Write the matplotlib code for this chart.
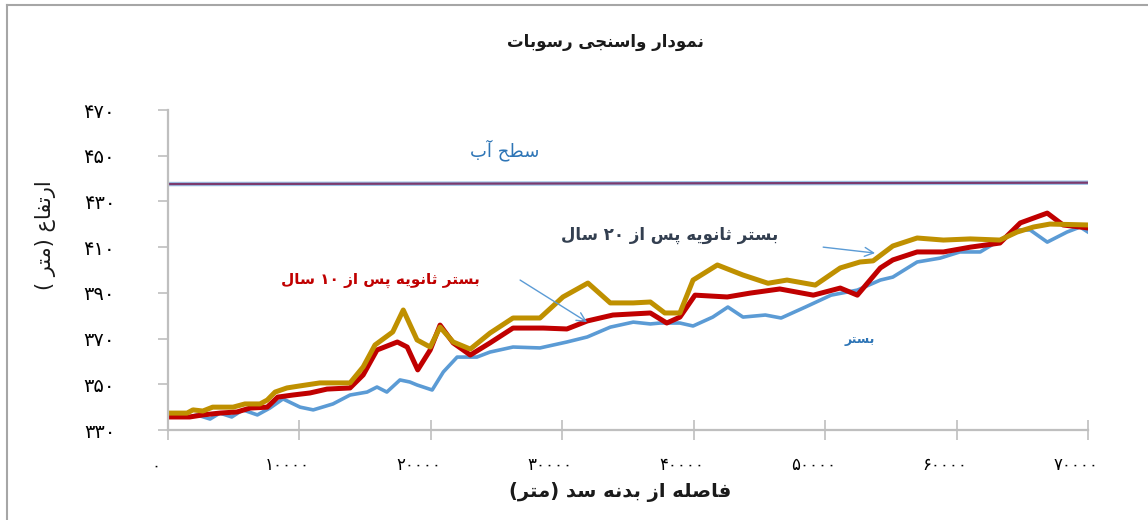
import re
import matplotlib
matplotlib.use("Agg")
import matplotlib.pyplot as plt
from matplotlib.lines import Line2D
from matplotlib.transforms import ScaledTranslation

plt.rcParams['font.family'] = ['DejaVu Sans']

# داده ها (فاصله از بدنه سد - متر ، ارتفاع - متر)
water_x = [0, 70000]
water_y = [437.6, 438.2]

bed_x = [0, 1650, 2200, 3200, 3950, 4850, 5700, 6800, 7750, 8750, 10050, 11050, 12550, 13850,
         15150, 15900, 16650, 17650, 18400, 18950, 20100, 20950, 22000, 23500, 24500, 26250,
         28300, 30350, 31900, 33650, 35400, 36700, 37450, 38950, 39950, 41450, 42600, 43750,
         45450, 46650, 48500, 50450, 52450, 54200, 55150, 57000, 58750, 60250, 61800, 63300,
         64600, 65600, 66900, 68400, 69400, 70000]
bed_y = [335.7, 335.7, 336.6, 334.8, 337.4, 335.7, 338.8, 336.6, 339.6, 343.6, 340.0, 338.8,
         341.4, 345.3, 346.6, 348.8, 346.6, 351.9, 351.0, 349.7, 347.5, 355.4, 361.9, 361.9,
         364.1, 366.3, 365.9, 368.5, 370.7, 375.0, 377.2, 376.4, 376.8, 376.8, 375.5, 379.4,
         383.8, 379.4, 380.3, 379.0, 383.8, 389.0, 391.2, 395.6, 396.9, 403.5, 405.2, 407.9,
         407.9, 413.1, 417.5, 417.5, 412.2, 416.6, 418.8, 416.6]

bed10_x = [0, 1650, 2650, 3950, 5250, 6250, 7550, 8350, 9500, 10800, 12100, 13850, 14850,
           15900, 17450, 18200, 19000, 19950, 20700, 21700, 23000, 24500, 26250, 28550, 30350,
           31900, 33850, 36700, 37950, 38950, 40100, 42550, 44300, 46550, 49100, 51150, 52450,
           54200, 55150, 57000, 59000, 61050, 63300, 64850, 66900, 68100, 70000]
bed10_y = [335.7, 335.7, 336.6, 337.4, 337.9, 339.6, 340.0, 344.4, 345.3, 346.2, 347.9, 348.4,
           354.1, 365.0, 368.5, 366.3, 356.3, 365.0, 375.9, 368.1, 362.8, 368.1, 374.6, 374.6,
           374.2, 377.7, 380.3, 381.2, 376.8, 379.4, 389.0, 388.2, 389.9, 391.7, 389.0, 392.1,
           389.0, 400.9, 404.4, 407.9, 407.9, 410.0, 411.8, 420.6, 424.9, 419.7, 418.4]

bed20_x = [0, 1450, 1900, 2650, 3400, 4200, 4950, 5850, 7000, 7550, 8150, 9050, 10050, 11550,
           13100, 13850, 14850, 15750, 17100, 17900, 18950, 19950, 20700, 21700, 23000, 24500,
           26250, 28300, 30050, 31950, 33650, 35400, 36700, 37800, 38950, 39950, 41800, 43750,
           45650, 47100, 49250, 51150, 52650, 53650, 55150, 57000, 59000, 61050, 63300, 64600,
           65850, 67100, 70000]
bed20_y = [337.4, 337.4, 338.8, 338.3, 340.0, 340.0, 340.0, 341.4, 341.4, 343.1, 346.6, 348.4,
           349.3, 350.6, 350.6, 350.6, 357.6, 367.2, 372.9, 382.5, 369.4, 366.3, 375.0, 368.5,
           365.4, 372.4, 379.0, 379.0, 388.2, 394.3, 385.6, 385.6, 386.0, 381.2, 381.2, 395.6,
           402.2, 397.8, 394.2, 395.6, 393.4, 400.9, 403.5, 404.0, 410.5, 414.0, 413.1, 413.6,
           413.1, 416.6, 418.8, 420.1, 419.7]

x_ticks = list(range(0, 70001, 10000))
y_ticks = list(range(330, 471, 20))

title_txt = "نمودار واسنجی رسوبات"
xlabel_txt = "فاصله از بدنه سد (متر)"
ylabel_txt = "ارتفاع (متر )"
water_txt = "سطح آب"
bed_txt = "بستر"
bed10_txt = "بستر ثانویه پس از ۱۰ سال"
bed20_txt = "بستر ثانویه پس از ۲۰ سال"

# شکل دهی حروف فارسی (matplotlib خودش اتصال حروف را انجام نمی دهد)
FORMS = {
    'ا': ('\uFE8D', '\uFE8E', None, None),
    'آ': ('\uFE81', '\uFE82', None, None),
    'ب': ('\uFE8F', '\uFE90', '\uFE91', '\uFE92'),
    'پ': ('\uFB56', '\uFB57', '\uFB58', '\uFB59'),
    'ت': ('\uFE95', '\uFE96', '\uFE97', '\uFE98'),
    'ث': ('\uFE99', '\uFE9A', '\uFE9B', '\uFE9C'),
    'ج': ('\uFE9D', '\uFE9E', '\uFE9F', '\uFEA0'),
    'ح': ('\uFEA1', '\uFEA2', '\uFEA3', '\uFEA4'),
    'د': ('\uFEA9', '\uFEAA', None, None),
    'ر': ('\uFEAD', '\uFEAE', None, None),
    'ز': ('\uFEAF', '\uFEB0', None, None),
    'س': ('\uFEB1', '\uFEB2', '\uFEB3', '\uFEB4'),
    'ص': ('\uFEB9', '\uFEBA', '\uFEBB', '\uFEBC'),
    'ط': ('\uFEC1', '\uFEC2', '\uFEC3', '\uFEC4'),
    'ع': ('\uFEC9', '\uFECA', '\uFECB', '\uFECC'),
    'ف': ('\uFED1', '\uFED2', '\uFED3', '\uFED4'),
    'ل': ('\uFEDD', '\uFEDE', '\uFEDF', '\uFEE0'),
    'م': ('\uFEE1', '\uFEE2', '\uFEE3', '\uFEE4'),
    'ن': ('\uFEE5', '\uFEE6', '\uFEE7', '\uFEE8'),
    'ه': ('\uFEE9', '\uFEEA', '\uFEEB', '\uFEEC'),
    'و': ('\uFEED', '\uFEEE', None, None),
    'ی': ('\uFBFC', '\uFBFD', '\uFBFE', '\uFBFF'),
}


def fa(s):
    out = []
    for i, c in enumerate(s):
        if c not in FORMS:
            out.append(c)
            continue
        f = FORMS[c]
        prev = s[i - 1] if i > 0 else ''
        nxt = s[i + 1] if i + 1 < len(s) else ''
        jp = prev in FORMS and FORMS[prev][2] is not None
        jn = f[2] is not None and nxt in FORMS
        if jp and jn:
            out.append(f[3])
        elif jp:
            out.append(f[1])
        elif jn:
            out.append(f[2])
        else:
            out.append(f[0])
    tokens = re.findall(r'[۰-۹]+|.', ''.join(out))
    vis = ''.join(reversed(tokens))
    return vis.translate(str.maketrans('()', ')('))


def fa_num(n):
    return str(n).translate(str.maketrans('0123456789', '۰۱۲۳۴۵۶۷۸۹'))


fig = plt.figure(figsize=(11.48, 5.2), dpi=100)
ax = fig.add_axes([168 / 1148, 1 - 430 / 520, 920 / 1148, 320 / 520])

ax.plot(water_x, water_y, color='#9DC3E6', lw=3.2, solid_capstyle='butt')
ax.plot(water_x, water_y, color='#7B3A6E', lw=1.6, solid_capstyle='butt')
ax.plot(bed_x, bed_y, color='#5B9BD5', lw=2.6)
ax.plot(bed10_x, bed10_y, color='#C00000', lw=3.6)
ax.plot(bed20_x, bed20_y, color='#BF9000', lw=3.6)

ax.set_xlim(0, 70000)
ax.set_ylim(330, 470)
ax.set_xticks(x_ticks)
ax.set_xticklabels([fa_num(v) for v in x_ticks], fontsize=12)
ax.set_yticks(y_ticks)
ax.set_yticklabels([fa_num(v) for v in y_ticks], fontsize=14)

for s in ['top', 'right']:
    ax.spines[s].set_visible(False)
for s in ['left', 'bottom']:
    ax.spines[s].set_color('#BFBFBF')
    ax.spines[s].set_linewidth(1.6)
ax.tick_params(axis='x', direction='inout', length=14, width=1.2, color='#BFBFBF', pad=12)
ax.tick_params(axis='y', direction='out', length=7, width=1.2, color='#BFBFBF', pad=31)

shift = ScaledTranslation(-12 / 100, 0, fig.dpi_scale_trans)
for lbl in ax.get_xticklabels():
    lbl.set_transform(lbl.get_transform() + shift)

# متن ها
fig.text(605 / 1148, 1 - 42 / 520, fa(title_txt), ha='center', va='center',
         fontsize=12, fontweight='bold', color='#1a1a1a')
fig.text(620 / 1148, 1 - 492 / 520, fa(xlabel_txt), ha='center', va='center',
         fontsize=14, fontweight='bold', color='#1a1a1a')
fig.text(45 / 1148, 1 - 235 / 520, fa(ylabel_txt), ha='center', va='center',
         fontsize=15, rotation=90, color='#1a1a1a')

ax.text(25650, 452.5, fa(water_txt), ha='center', va='center', fontsize=13, color='#2E75B6')
ax.text(38200, 415.3, fa(bed20_txt), ha='center', va='center', fontsize=12,
        fontweight='bold', color='#333F50')
ax.text(16130, 395.6, fa(bed10_txt), ha='center', va='center', fontsize=11,
        fontweight='bold', color='#C00000')
ax.text(52660, 369.4, fa(bed_txt), ha='center', va='center', fontsize=9,
        fontweight='bold', color='#2E75B6')

ax.annotate('', xy=(31890, 377.2), xytext=(26790, 395.6),
            arrowprops=dict(arrowstyle='->', color='#5B9BD5', lw=1.0,
                            mutation_scale=16, shrinkA=0, shrinkB=0))
ax.annotate('', xy=(53800, 407.4), xytext=(49850, 410.0),
            arrowprops=dict(arrowstyle='->', color='#5B9BD5', lw=1.0,
                            mutation_scale=16, shrinkA=0, shrinkB=0))

# کادر نمودار
fig.add_artist(Line2D([7 / 1148, 7 / 1148], [0, 1 - 5 / 520], transform=fig.transFigure,
                      color='#A6A6A6', lw=1.5))
fig.add_artist(Line2D([7 / 1148, 1], [1 - 5 / 520, 1 - 5 / 520], transform=fig.transFigure,
                      color='#A6A6A6', lw=1.5))

fig.savefig('out.png', dpi=100)
